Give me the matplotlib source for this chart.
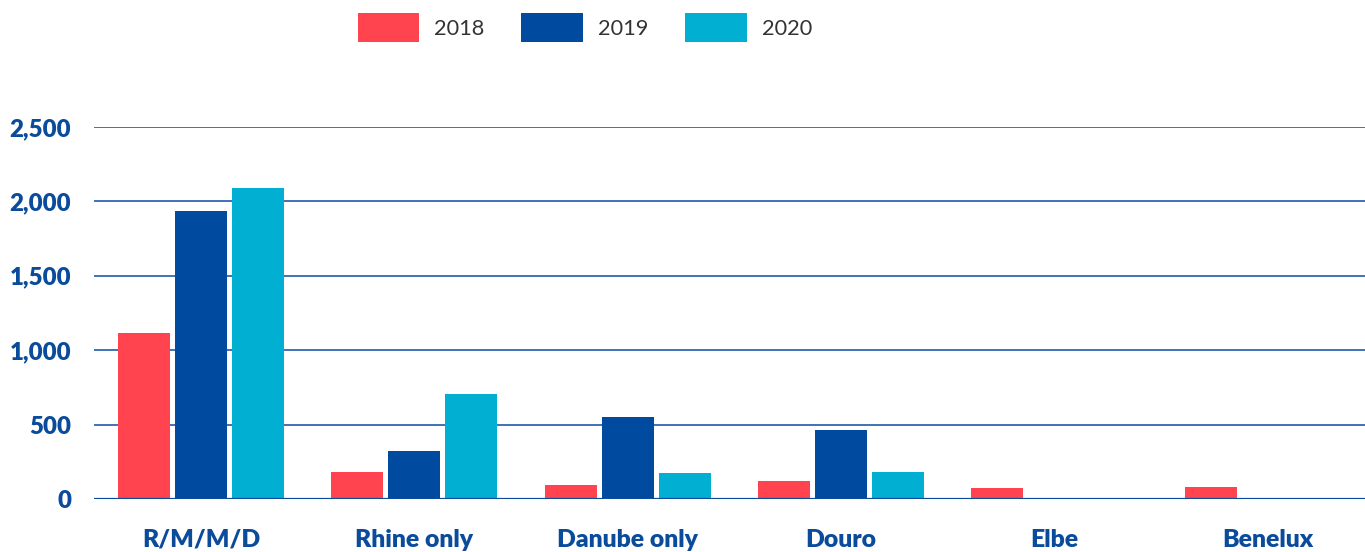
import matplotlib.pyplot as plt
import numpy as np
from matplotlib.ticker import FuncFormatter

categories = ["R/M/M/D", "Rhine only", "Danube only", "Douro", "Elbe", "Benelux"]
years = ["2018", "2019", "2020"]
v2018 = [1115, 181, 94, 121, 74, 81]
v2019 = [1935, 323, 551, 464, 0, 0]
v2020 = [2090, 706, 175, 181, 0, 0]
colors = ["#FF444F", "#004BA0", "#00AFD2"]

blue_txt = "#0A4B9C"

fig = plt.figure(figsize=(13.65, 5.52), dpi=100)
# axes run a little past the right edge, as in the original
ax = fig.add_axes([94.4 / 1365, 53 / 552, 1280 / 1365, 372 / 552])

x = np.arange(len(categories))
width = 0.244
step = 0.267
for i, (vals, col, yr) in enumerate(zip([v2018, v2019, v2020], colors, years)):
    ax.bar(x + (i - 1) * step, vals, width, color=col, label=yr, zorder=3)

ax.set_xlim(-0.5, len(categories) - 0.5)
ax.set_ylim(0, 2500)
ax.set_yticks(np.arange(0, 2501, 500))
ax.yaxis.set_major_formatter(FuncFormatter(lambda v, p: f"{int(v):,}"))
ax.grid(axis="y", color="#1F5AAB", linewidth=1.2, zorder=0)
ax.axhline(0, color="#0A4B9C", linewidth=1.6, zorder=4)
for s in ax.spines.values():
    s.set_visible(False)
ax.tick_params(axis="both", length=0)
ax.tick_params(axis="y", pad=16.8)
ax.tick_params(axis="x", pad=21.5)
ax.set_xticks(x)
ax.set_xticklabels(categories)
for lab in ax.get_xticklabels():
    lab.set_fontfamily("Lato")
    lab.set_fontweight("heavy")
    lab.set_fontsize(17.8)
    lab.set_color(blue_txt)
for lab in ax.get_yticklabels():
    lab.set_fontfamily("Lato")
    lab.set_fontweight("heavy")
    lab.set_fontsize(17.3)
    lab.set_color(blue_txt)

leg = fig.legend(loc="center left", bbox_to_anchor=(338 / 1365, 1 - 27.5 / 552), ncol=3,
                 frameon=False, handlelength=2.8, handleheight=1.72,
                 handletextpad=0.69, columnspacing=1.72,
                 prop={"family": "Lato", "weight": "normal", "size": 15.7})
for t in leg.get_texts():
    t.set_color("#333333")

fig.savefig("out.png", dpi=100)
